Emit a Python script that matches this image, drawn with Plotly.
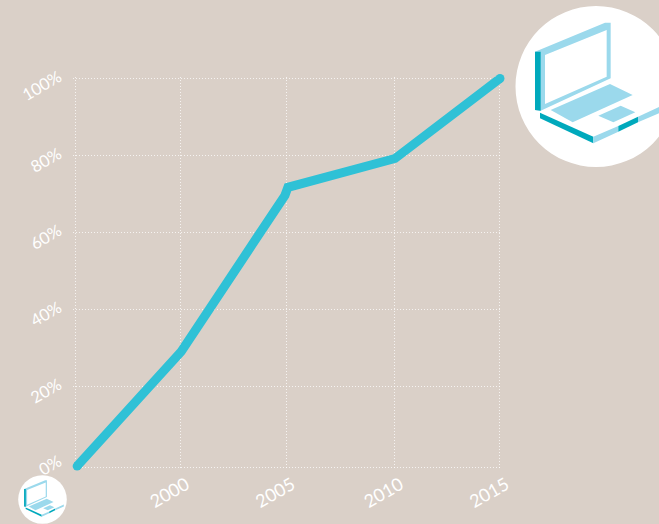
import plotly.graph_objects as go

W, H = 659, 524

years = [1995.1, 2000, 2004.88, 2005.02, 2010.06, 2015]
share = [-0.8, 29, 69.6, 71.7, 79.2, 100]

x_ticks = [1995, 1999.96, 2004.93, 2010.03, 2015]
x_labels = ['', '2000', '2005', '2010', '2015']
grid_y = [-1.3, 20, 40, 60, 80, 100]
y_ticks = [0, 20, 40, 60, 80, 100]
y_labels = ['0%', '20%', '40%', '60%', '80%', '100%']

BG = '#dad0c8'
TEAL = '#2fc1d6'
LIGHT = '#9bd9ec'
DARK = '#00a9bc'
GRID = 'rgba(255,255,255,0.75)'

# laptop icon, zoomed-crop coordinates of the big one (crop origin 500,0, 3x)
ICON = [
    (LIGHT, [(105, 155), (315, 68), (332, 68), (332, 235), (122, 332), (105, 330)],
     [(135, 165), (320, 90), (320, 230), (135, 312)]),
    (DARK, [(105, 155), (122, 155), (122, 332), (105, 330)], None),
    (LIGHT, [(152, 330), (330, 252), (398, 285), (218, 367)], None),
    (LIGHT, [(295, 347), (362, 317), (406, 337), (340, 367)], None),
    (DARK, [(120, 338), (280, 410), (280, 430), (120, 355)], None),
    (LIGHT, [(280, 410), (355, 378), (355, 395), (280, 430)], None),
    (DARK, [(355, 378), (414, 350), (414, 367), (355, 395)], None),
    (LIGHT, [(414, 350), (500, 310), (500, 330), (414, 367)], None),
]


def px(x):
    return x / W


def py(y):
    return 1 - y / H


def ring(pts, cx, cy, k):
    out = []
    for i, (zx, zy) in enumerate(pts):
        x = cx + (500 + zx / 3 - 596) * k
        y = cy + (zy / 3 - 86.5) * k
        out.append(('M' if i == 0 else 'L') + f'{px(x):.5f},{py(y):.5f}')
    return ' '.join(out) + ' Z'


def icon(cx, cy, r):
    k = r / 80.5
    shapes = [dict(type='circle', xref='paper', yref='paper',
                   x0=px(cx - r), x1=px(cx + r), y0=py(cy + r), y1=py(cy - r),
                   fillcolor='#ffffff', line_width=0, layer='below')]
    for color, outer, hole in ICON:
        d = ring(outer, cx, cy, k)
        if hole:
            d += ' ' + ring(hole, cx, cy, k)
        shapes.append(dict(type='path', path=d, xref='paper', yref='paper',
                           fillcolor=color, line_width=0, layer='below'))
    return shapes


fig = go.Figure()
fig.add_trace(go.Scatter(x=years, y=share, mode='lines',
                         line=dict(color=TEAL, width=9),
                         hoverinfo='skip', cliponaxis=False))
fig.add_trace(go.Scatter(x=[years[0], years[-1]], y=[share[0], share[-1]], mode='markers',
                         marker=dict(color=TEAL, size=9), yaxis='y2',
                         hoverinfo='skip', cliponaxis=False))

y_domain = [py(469.9), py(76.6)]
y_range = [-1.8, 100.5]

fig.update_layout(
    width=W, height=H,
    margin=dict(l=0, r=0, t=0, b=0),
    paper_bgcolor=BG, plot_bgcolor=BG,
    showlegend=False,
    shapes=icon(596, 86.5, 80.5) + icon(42.5, 499.5, 24.3),
    # range runs a hair past the edge ticks, plotly drops gridlines sitting on the edge
    xaxis=dict(domain=[px(72.9), px(502.1)], range=[1994.9, 2015.1], automargin=False,
               tickmode='array', tickvals=x_ticks, ticktext=x_labels, tickangle=-30,
               tickfont=dict(family='Lato', size=18, color='#ffffff'), ticklabelshift=6,
               showgrid=True, gridcolor=GRID, griddash='1px,2px', gridwidth=1,
               zeroline=False, showline=False, ticks=''),
    # grid only: the bottom gridline sits a few px under the 0% label position
    yaxis=dict(domain=y_domain, range=y_range, automargin=False,
               tickmode='array', tickvals=grid_y, showticklabels=False,
               showgrid=True, gridcolor=GRID, griddash='1px,2px', gridwidth=1,
               zeroline=False, showline=False, ticks=''),
    # labels only
    yaxis2=dict(domain=y_domain, range=y_range, automargin=False, overlaying='y', side='left',
                tickmode='array', tickvals=y_ticks, ticktext=y_labels, tickangle=-30,
                tickfont=dict(family='Lato', size=16.5, color='#ffffff'),
                ticklabelstandoff=13, ticklabelshift=-3,
                showgrid=False, zeroline=False, showline=False, ticks=''),
)

fig.write_html("out.html", config=dict(displayModeBar=False, responsive=False),
               post_script="document.body.style.margin='0';")
